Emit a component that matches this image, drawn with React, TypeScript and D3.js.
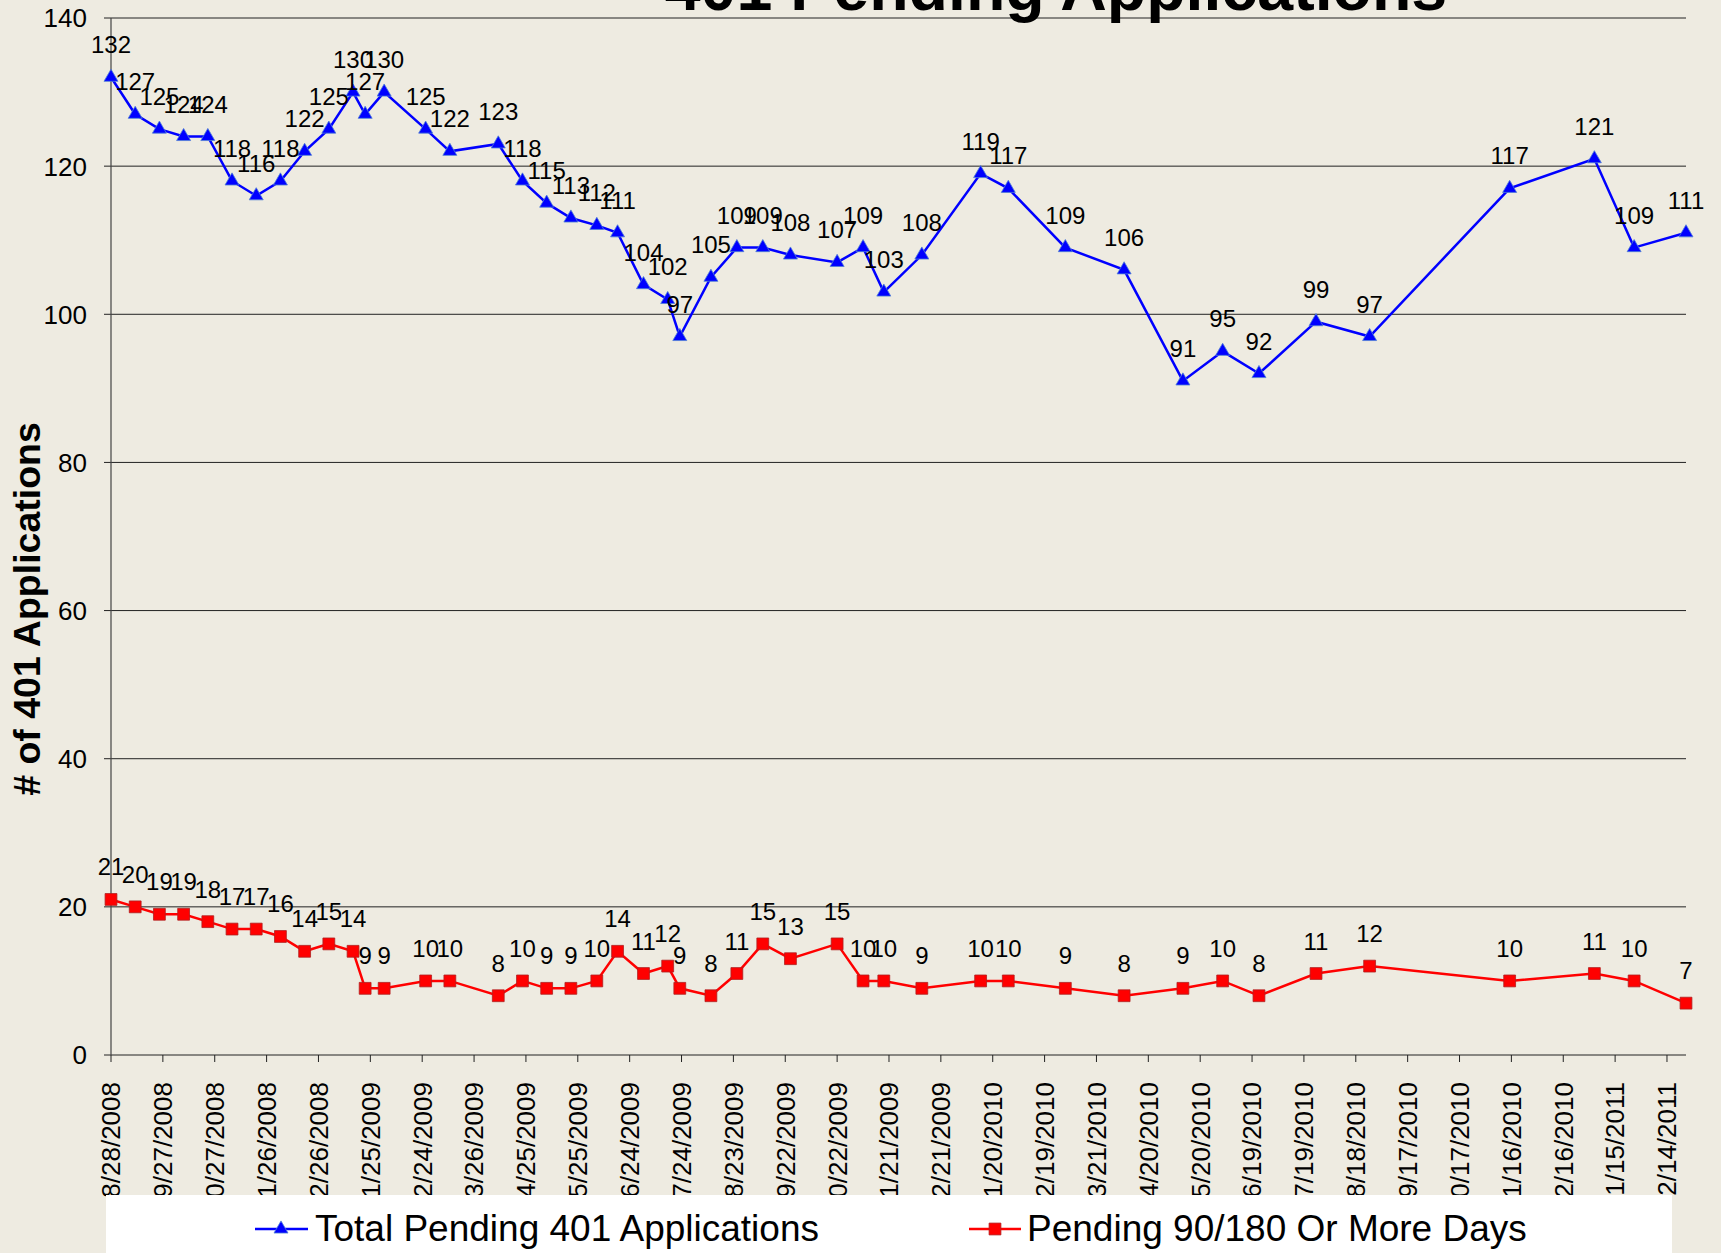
import React from 'react'
import * as d3 from 'd3'

// report dates
const reportDates = [
  '2008-08-28', '2008-09-11', '2008-09-25', '2008-10-09', '2008-10-23', '2008-11-06',
  '2008-11-20', '2008-12-04', '2008-12-18', '2009-01-01', '2009-01-15', '2009-01-22',
  '2009-02-02', '2009-02-26', '2009-03-12', '2009-04-09', '2009-04-23', '2009-05-07',
  '2009-05-21', '2009-06-05', '2009-06-17', '2009-07-02', '2009-07-16', '2009-07-23',
  '2009-08-10', '2009-08-25', '2009-09-09', '2009-09-25', '2009-10-22', '2009-11-06',
  '2009-11-18', '2009-12-10', '2010-01-13', '2010-01-29', '2010-03-03', '2010-04-06',
  '2010-05-10', '2010-06-02', '2010-06-23', '2010-07-26', '2010-08-26', '2010-11-15',
  '2011-01-03', '2011-01-26', '2011-02-25',
]

const totalPending = [
  132, 127, 125, 124, 124, 118, 116, 118, 122, 125, 130, 127, 130, 125, 122, 123, 118, 115,
  113, 112, 111, 104, 102, 97, 105, 109, 109, 108, 107, 109, 103, 108, 119, 117, 109, 106,
  91, 95, 92, 99, 97, 117, 121, 109, 111,
]

const pendingOld = [
  21, 20, 19, 19, 18, 17, 17, 16, 14, 15, 14, 9, 9, 10, 10, 8, 10, 9,
  9, 10, 14, 11, 12, 9, 8, 11, 15, 13, 15, 10, 10, 9, 10, 10, 9, 8,
  9, 10, 8, 11, 12, 10, 11, 10, 7,
]

const yTicks = [0, 20, 40, 60, 80, 100, 120, 140]
const axisStart = '2008-08-28'
const axisEnd = '2011-02-25'
const tickStepDays = 30

const seriesNames = ['Total Pending 401 Applications', 'Pending 90/180 Or More Days']
const chartTitle = '401 Pending Applications'
const yTitle = '# of 401 Applications'

const W = 1721
const H = 1253
const FONT = "'Liberation Sans', Arial, sans-serif"

export default function App() {
  const parse = d3.timeParse('%Y-%m-%d')
  const fmt = d3.timeFormat('%-m/%-d/%Y')
  const dates = reportDates.map(d => parse(d) as Date)
  const start = parse(axisStart) as Date
  const end = parse(axisEnd) as Date

  const x = d3.scaleTime().domain([start, end]).range([111, 1686])
  const y = d3.scaleLinear().domain([0, 140]).range([1055, 18])

  const xTicks = d3.range(0, 901, tickStepDays).map(n => d3.timeDay.offset(start, n))

  const line = d3.line<number>()
    .x((_, i) => x(dates[i]))
    .y(v => y(v))

  const tri = d3.symbol().type(d3.symbolTriangle).size(85)()
  const sq = d3.symbol().type(d3.symbolSquare).size(140)()

  const labels = (vals: number[]) => vals.map((v, i) => (
    <text key={i} x={x(dates[i])} y={y(v) - 24} textAnchor="middle"
      fontSize={24} fill="#000">{v}</text>
  ))

  return (
    <svg width={W} height={H} style={{ position: 'absolute', left: 0, top: 0 }}
      fontFamily={FONT}>
      <rect width={W} height={H} fill="#EEEBE1" />

      {/* gridlines + y ticks */}
      {yTicks.map(t => (
        <g key={t}>
          <line x1={104} x2={1686} y1={y(t)} y2={y(t)} stroke="#222" strokeWidth={1} />
          <text x={87} y={y(t)} dy="0.36em" textAnchor="end" fontSize={26}>{t}</text>
        </g>
      ))}
      <line x1={111} x2={111} y1={18} y2={1055} stroke="#444" strokeWidth={1.2} />

      {/* x ticks */}
      {xTicks.map((d, i) => (
        <g key={i} transform={`translate(${x(d)},0)`}>
          <line y1={1055} y2={1062} stroke="#222" />
          <text transform={`translate(0,1082) rotate(-90)`} dy="0.36em" textAnchor="end"
            fontSize={26}>{fmt(d)}</text>
        </g>
      ))}

      {/* series */}
      <path d={line(totalPending) || ''} fill="none" stroke="#0000FF" strokeWidth={2.5} />
      {totalPending.map((v, i) => (
        <path key={i} d={tri || ''} transform={`translate(${x(dates[i])},${y(v)})`}
          fill="#0000FF" stroke="#4f7fd6" strokeWidth={0.8} />
      ))}
      <path d={line(pendingOld) || ''} fill="none" stroke="#FF0000" strokeWidth={2.5} />
      {pendingOld.map((v, i) => (
        <path key={i} d={sq || ''} transform={`translate(${x(dates[i])},${y(v)})`}
          fill="#FF0000" stroke="#b02020" strokeWidth={0.8} />
      ))}

      {labels(totalPending)}
      {labels(pendingOld)}

      {/* title (cut off at the top as in the original) */}
      <text x={1056} y={10} textAnchor="middle" fontSize={64.5} fontWeight="bold">{chartTitle}</text>

      <text transform="translate(40,609) rotate(-90)" textAnchor="middle" fontSize={37.5}
        fontWeight="bold">{yTitle}</text>

      {/* legend */}
      <rect x={106} y={1195} width={1566} height={70} fill="#FFFFFF" />
      <line x1={255} x2={308} y1={1229} y2={1229} stroke="#0000FF" strokeWidth={2.5} />
      <path d={tri || ''} transform="translate(281,1229)" fill="#0000FF" stroke="#4f7fd6" strokeWidth={0.8} />
      <text x={315} y={1241} fontSize={37}>{seriesNames[0]}</text>
      <line x1={969} x2={1021} y1={1229} y2={1229} stroke="#FF0000" strokeWidth={2.5} />
      <path d={sq || ''} transform="translate(995,1229)" fill="#FF0000" stroke="#b02020" strokeWidth={0.8} />
      <text x={1027} y={1241} fontSize={37}>{seriesNames[1]}</text>
    </svg>
  )
}
